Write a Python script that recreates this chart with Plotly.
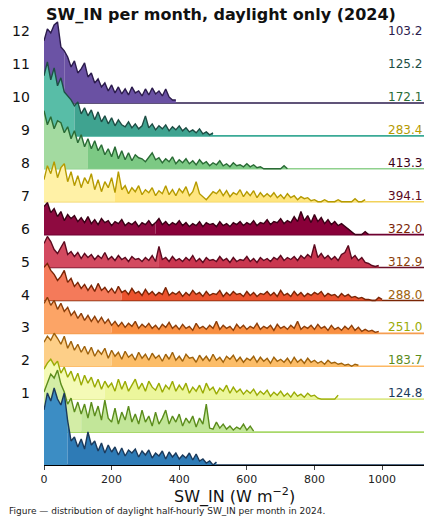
import plotly.graph_objects as go

# half-hourly daylight SW_IN, 10 W m-2 bins, relative frequency (a.u.)
BIN_W = 10
X_MAX = 1124
MONTH_LABELS = ["1", "2", "3", "4", "5", "6", "7", "8", "9", "10", "11", "12"]
MEANS = [124.8, 183.7, 251.0, 288.0, 312.9, 322.0, 394.1, 413.3, 283.4, 172.1, 125.2, 103.2]
MEDIANS = [71, 110, 177, 198, 204, 234, 343, 330, 210, 130, 86, 60]

JAN = [55, 72, 64, 77, 66, 60, 72, 44, 24, 28, 18, 26, 16, 33, 20, 24, 14, 22, 12, 20,
       13, 18, 10, 17, 9, 15, 12, 16, 8, 14, 10, 15, 7, 12, 9, 14, 6, 13, 8, 12,
       6, 10, 7, 12, 5, 11, 4, 6, 2, 4, 0, 3]
FEB = [40, 50, 58, 54, 62, 48, 40, 28, 34, 20, 30, 18, 28, 14, 30, 16, 26, 12, 32, 14,
       10, 24, 8, 20, 12, 26, 10, 18, 8, 22, 10, 16, 6, 20, 8, 14, 22, 8, 16, 10,
       18, 6, 14, 9, 16, 5, 14, 8, 28, 4, 3, 10, 4, 8, 3, 6, 2, 5, 3, 8,
       2, 6, 1]
MAR = [30, 36, 40, 34, 38, 26, 32, 22, 28, 18, 26, 14, 24, 16, 22, 12, 20, 10, 18, 12,
       16, 8, 20, 10, 18, 8, 14, 20, 10, 16, 8, 18, 12, 9, 16, 7, 14, 10, 18, 8,
       14, 9, 16, 6, 12, 8, 14, 6, 16, 9, 12, 5, 11, 8, 14, 6, 12, 7, 10, 5,
       9, 6, 10, 4, 8, 5, 9, 3, 7, 4, 8, 3, 6, 2, 7, 3, 5, 2, 6, 3,
       4, 1, 0, 0, 0, 0, 0, 4]
APR = [24, 30, 26, 33, 28, 22, 30, 18, 25, 16, 22, 14, 20, 12, 19, 10, 16, 12, 18, 8,
       16, 10, 14, 7, 15, 9, 12, 6, 14, 8, 12, 6, 13, 8, 11, 5, 12, 7, 14, 6,
       10, 5, 12, 8, 9, 4, 11, 6, 10, 5, 12, 6, 9, 4, 10, 7, 11, 5, 9, 4,
       8, 6, 10, 4, 9, 5, 8, 3, 9, 5, 7, 4, 8, 3, 9, 4, 7, 3, 8, 4,
       6, 3, 5, 2, 6, 3, 4, 2, 3, 1, 2, 0, 2, 1]
MAY = [30, 36, 28, 33, 24, 30, 22, 26, 18, 22, 15, 20, 13, 18, 12, 17, 11, 16, 10, 14,
       8, 12, 7, 11, 6, 10, 7, 12, 5, 9, 6, 10, 5, 8, 4, 9, 6, 11, 5, 8,
       4, 9, 5, 7, 3, 10, 5, 7, 4, 8, 5, 12, 4, 8, 5, 7, 3, 9, 5, 8,
       4, 7, 5, 10, 4, 7, 5, 8, 3, 9, 5, 7, 4, 8, 5, 12, 4, 7, 5, 8,
       4, 9, 5, 7, 3, 8, 4, 6, 3, 7, 4, 8, 3, 6, 2, 4, 2, 3, 1, 2]
JUN = [33, 37, 30, 26, 20, 24, 30, 18, 22, 14, 18, 12, 16, 10, 15, 9, 17, 10, 13, 8,
       12, 7, 14, 8, 10, 6, 12, 7, 9, 5, 11, 6, 9, 5, 8, 6, 13, 5, 8, 6,
       9, 4, 8, 5, 10, 6, 8, 4, 9, 5, 7, 6, 10, 4, 8, 5, 9, 6, 7, 4,
       9, 5, 8, 4, 7, 6, 9, 5, 8, 4, 10, 5, 7, 4, 9, 5, 8, 4, 7, 5,
       8, 6, 9, 4, 7, 5, 6, 3, 7, 4, 6, 3, 4, 2, 3, 1, 1, 0, 0, 3,
       1]
JUL = [24, 31, 26, 18, 14, 20, 26, 13, 16, 11, 15, 9, 14, 10, 13, 8, 12, 9, 15, 8,
       11, 7, 12, 8, 10, 6, 11, 8, 9, 6, 10, 7, 12, 6, 21, 8, 10, 6, 11, 7,
       9, 6, 10, 7, 12, 6, 9, 5, 10, 7, 8, 6, 11, 7, 9, 5, 10, 6, 8, 7,
       11, 6, 9, 5, 10, 7, 9, 6, 10, 8, 12, 7, 10, 8, 11, 7, 12, 9, 13, 10,
       23, 10, 14, 9, 12, 8, 11, 7, 13, 15, 22, 9, 12, 7, 10, 5, 4, 2, 1, 2]
AUG = [28, 32, 22, 26, 18, 23, 14, 20, 16, 19, 13, 17, 12, 18, 11, 15, 10, 16, 12, 14,
       9, 13, 11, 15, 9, 12, 10, 13, 8, 12, 10, 14, 9, 12, 16, 10, 13, 9, 12, 10,
       14, 9, 12, 8, 11, 9, 13, 8, 12, 10, 11, 8, 13, 9, 11, 8, 12, 10, 13, 9,
       12, 10, 14, 9, 12, 11, 15, 10, 13, 12, 16, 11, 14, 12, 18, 13, 23, 14, 19, 12,
       20, 13, 17, 11, 15, 10, 13, 9, 11, 8, 6, 3, 0, 0, 0, 3, 0]
SEP = [22, 36, 28, 40, 24, 34, 38, 20, 30, 16, 26, 14, 24, 18, 28, 12, 22, 10, 20, 14,
       24, 9, 30, 12, 16, 8, 14, 10, 16, 7, 12, 9, 14, 6, 11, 8, 16, 7, 12, 6,
       13, 9, 15, 6, 10, 20, 8, 5, 2, 6, 10, 8, 12, 6, 11, 5, 9, 7, 12, 5,
       10, 6, 11, 4, 9, 5, 8, 5, 9, 4, 7, 3, 8, 4, 6, 2, 5, 3, 4, 1,
       2, 0, 0, 2, 0, 0, 0, 2, 0, 0, 0, 0, 3, 0, 0, 2]
OCT = [58, 44, 52, 40, 48, 46, 36, 42, 30, 38, 26, 34, 22, 30, 20, 28, 18, 24, 14, 20,
       12, 22, 10, 18, 9, 16, 8, 14, 11, 10, 7, 12, 16, 9, 11, 6, 10, 7, 12, 5,
       9, 6, 10, 5, 8, 4, 9, 5, 7, 3, 6, 4, 8, 3, 5, 2, 6, 3, 4, 2,
       5, 2, 4, 1, 2, 0, 0, 0, 0, 0, 0, 3, 0]
NOV = [60, 74, 56, 68, 50, 58, 44, 40, 36, 30, 34, 22, 28, 20, 26, 16, 24, 14, 20, 12,
       18, 10, 16, 11, 9, 14, 8, 12, 7, 10, 20, 8, 12, 6, 10, 7, 11, 5, 9, 6,
       10, 5, 8, 4, 6, 3, 7, 2, 4, 1, 3]
DEC = [62, 74, 70, 78, 81, 56, 52, 46, 36, 42, 30, 34, 40, 26, 30, 20, 24, 16, 20, 12,
       18, 10, 16, 9, 14, 8, 16, 10, 12, 7, 14, 8, 15, 9, 12, 7, 14, 6, 3, 3]

COUNTS = [JAN, FEB, MAR, APR, MAY, JUN, JUL, AUG, SEP, OCT, NOV, DEC]
SCALE = 1 / 32.9

FILL_LO = ["#3c8dc4", "#d3eda6", "#f4fab6", "#fdcf88", "#fca466", "#f47a5a",
           "#d34a60", "#8e0a40", "#fff1a6", "#a3daa0", "#58bda7", "#6b53a5"]
FILL_HI = ["#2e7bb6", "#c2e699", "#ecf69c", "#fcbd68", "#f98f42", "#eb532e",
           "#c9364f", "#890039", "#ffe680", "#7cc984", "#3fa390", "#6a51a3"]
LINE_COL = ["#1b3a5c", "#5b8c1c", "#9aab05", "#9e620c", "#8c3f0a", "#7a2505",
            "#5c0a1f", "#3a0016", "#b59a00", "#2a6b35", "#1e4d44", "#2b1b4c"]
BASE_COL = ["#1b3a5c", "#a8d86a", "#dde98a", "#fdb863", "#f59e50", "#7a2505",
            "#6b1028", "#6e0030", "#f2d25a", "#8fd18d", "#3aaa96", "#2b1b4c"]

fig = go.Figure()

for k in reversed(range(12)):
    c = COUNTS[k]
    base = k
    xs = [i * BIN_W for i in range(len(c))]
    ys = [base + v * SCALE for v in c]
    s = min(round(MEDIANS[k] / BIN_W), len(c) - 1)

    fig.add_trace(go.Scatter(x=[0, X_MAX], y=[base, base], mode="lines",
                             line=dict(color=BASE_COL[k], width=1.6), hoverinfo="skip"))
    fig.add_trace(go.Scatter(x=xs[:s + 1] + [xs[s], 0], y=ys[:s + 1] + [base, base],
                             mode="lines", fill="toself", fillcolor=FILL_LO[k],
                             line=dict(width=0), hoverinfo="skip"))
    fig.add_trace(go.Scatter(x=xs[s:] + [xs[-1], xs[s]], y=ys[s:] + [base, base],
                             mode="lines", fill="toself", fillcolor=FILL_HI[k],
                             line=dict(width=0), hoverinfo="skip"))
    fig.add_trace(go.Scatter(x=xs, y=ys, mode="lines",
                             line=dict(color=LINE_COL[k], width=1.4), hoverinfo="skip"))

annotations = []
for k in range(12):
    y_lab = k + 2 + 0.18
    annotations.append(dict(x=-0.032, xref="paper", y=y_lab, yref="y", text=MONTH_LABELS[k],
                            showarrow=False, xanchor="right", yanchor="middle",
                            font=dict(size=14, color="#111")))
    annotations.append(dict(x=1.0, xref="paper", y=y_lab, yref="y", text=f"{MEANS[k]:.1f}",
                            showarrow=False, xanchor="right", yanchor="middle",
                            font=dict(size=12, color=LINE_COL[k])))

annotations.append(dict(x=0.5, xref="paper", y=-0.07, yref="paper",
                        text="SW_IN (W m<sup>\u22122</sup>)", showarrow=False,
                        xanchor="center", yanchor="middle", font=dict(size=16, color="#111")))
annotations.append(dict(x=-0.097, xref="paper", y=-0.103, yref="paper",
                        text="Figure \u2014 distribution of daylight half-hourly SW_IN per month in 2024.",
                        showarrow=False, xanchor="left", yanchor="middle",
                        font=dict(size=9, color="#222")))

fig.update_layout(
    width=431, height=523,
    margin=dict(l=44, r=7, t=20, b=58),
    paper_bgcolor="white", plot_bgcolor="white",
    font=dict(family="DejaVu Sans"),
    showlegend=False,
    title=dict(text="<b>SW_IN per month, daylight only (2024)</b>", x=46 / 431, xref="container",
               xanchor="left", y=1 - 14 / 523, yref="container", yanchor="middle",
               font=dict(size=16, color="#111")),
    xaxis=dict(range=[0, X_MAX], showgrid=False, zeroline=False, showline=True,
               linecolor="black", linewidth=1, ticks="outside", ticklen=4,
               tickvals=[0, 200, 400, 600, 800, 1000], tickfont=dict(size=11, color="#222")),
    yaxis=dict(range=[0, 13.52], showgrid=False, zeroline=False, showline=False,
               showticklabels=False, ticks=""),
    annotations=annotations,
)

# page body has a default 8px margin; drop it so the figure fills the window
fig.write_html("out.html", config={"displayModeBar": False},
               post_script="document.body.style.margin='0';document.body.style.overflow='hidden';")
